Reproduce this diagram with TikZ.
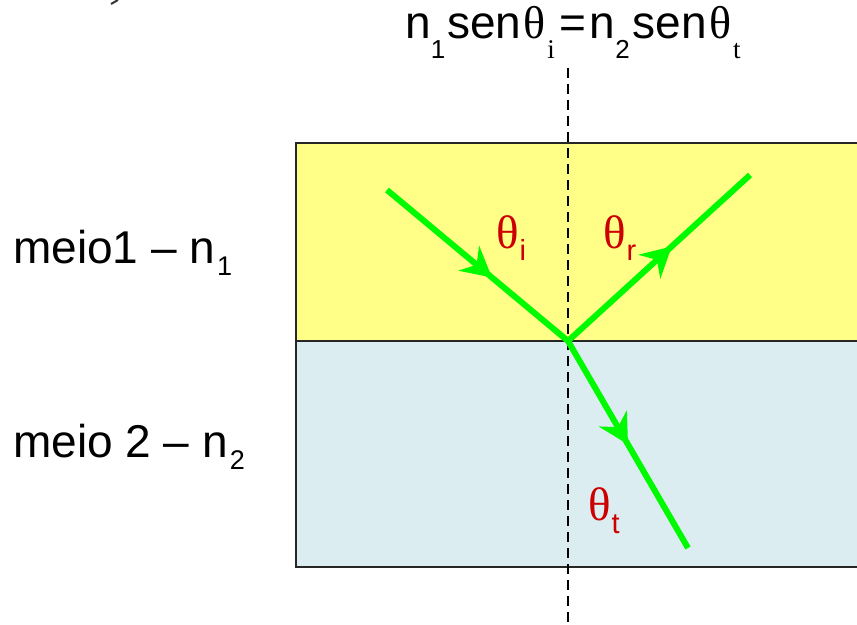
\documentclass[tikz,border=0pt]{standalone}
\usepackage{fontspec}
\setmainfont{Liberation Sans}
\newfontfamily\serifgr{Liberation Serif}
\usetikzlibrary{arrows.meta,decorations.markings}
\definecolor{paleyellow}{RGB}{255,255,136}
\definecolor{paleblue}{RGB}{220,237,241}
\definecolor{raygreen}{RGB}{0,250,0}
\definecolor{anglered}{RGB}{204,0,0}
\newcommand{\thsym}{{\serifgr θ}}
\newcommand{\lowsub}[3]{\raisebox{-#1}{\fontsize{#2}{#2}\selectfont #3}}
\tikzset{
  ray/.style={draw=raygreen, line width=6bp},
  rayarrow/.style={postaction={decorate},
    decoration={markings, mark=at position #1 with {\arrow[raygreen]{Stealth[length=30bp,width=32bp,inset=10bp]}}}},
  angl/.style={text=anglered, inner sep=0pt, anchor=base west, font=\fontsize{47bp}{47bp}\selectfont\serifgr},
  lbl/.style={inner sep=0pt, anchor=base west, font=\fontsize{46bp}{46bp}\selectfont},
  normal/.style={draw=black, line width=1.6bp, dash pattern=on 10bp off 6bp},
  border/.style={draw=black!85, line width=2bp}
}
\begin{document}
\begin{tikzpicture}[x=1bp,y=-1bp]
\useasboundingbox (0,0) rectangle (857,625);
% media
\fill[paleyellow] (296,143) rectangle (860,341);
\fill[paleblue] (296,341) rectangle (860,567);
\draw[border] (860,143) -- (296,143) -- (296,567) -- (860,567);
\draw[border] (296,341) -- (860,341);
% points
\coordinate (P) at (568,341);
\coordinate (I) at (387,190);
\coordinate (R) at (750,175);
\coordinate (T) at (688,548);
\coordinate (Ntop) at (568,68);
\coordinate (Nbot) at (568,625);
% normal
\draw[normal] (Ntop) -- (Nbot);
% rays
\draw[ray, rayarrow=0.58] (I) -- (P);
\draw[ray, rayarrow=0.57] (P) -- (R);
\draw[ray, rayarrow=0.50] (P) -- (T);
% angle labels
\node[angl] (thi) at (496,249) {θ\kern1bp\lowsub{11bp}{29bp}{\fontspec{Liberation Sans}i}};
\node[angl] (thr) at (603,249) {θ\kern1bp\lowsub{11bp}{29bp}{\fontspec{Liberation Sans}r}};
\node[angl] (tht) at (588,520) {θ\kern1bp\lowsub{13bp}{29bp}{\fontspec{Liberation Sans}t}};
% media labels
\node[lbl] (m1) at (13,263) {meio1 – n\kern2bp\lowsub{12bp}{27bp}{1}};
\node[lbl] (m2) at (13,457) {meio 2 – n\kern2bp\lowsub{12bp}{27bp}{2}};
% Snell's law
\node[inner sep=0pt, anchor=base west, font=\fontsize{46bp}{46bp}\selectfont] (snell) at (405,39)
  {n\lowsub{20bp}{26bp}{1}\kern2bp sen\kern2bp\thsym\kern2bp\lowsub{20bp}{27bp}{\serifgr i}\kern5bp=\kern3bp n\lowsub{20bp}{26bp}{2}\kern3bp sen\kern2bp\thsym\kern2bp\lowsub{20bp}{27bp}{\serifgr t}};
% fragment top-left
\coordinate (fa) at (111,4);
\coordinate (fb) at (118,0);
\draw[line width=2bp, black!80] (fa) -- (fb);
\end{tikzpicture}
\end{document}
